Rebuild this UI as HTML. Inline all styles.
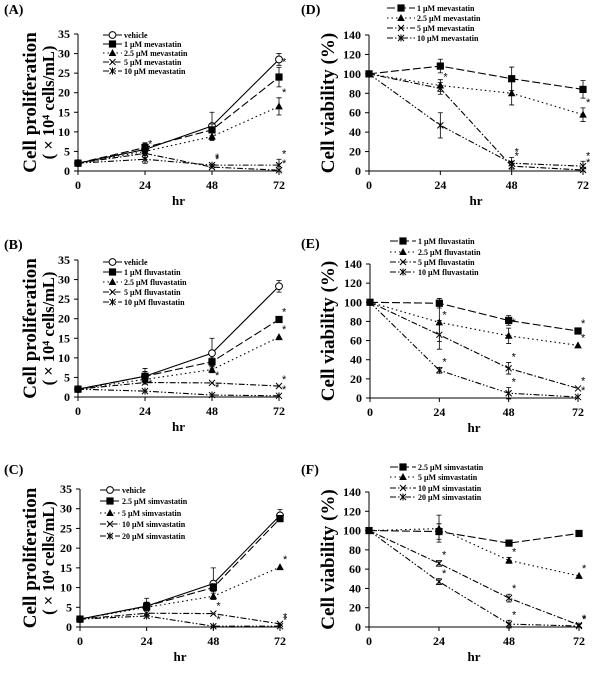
<!DOCTYPE html>
<html><head><meta charset="utf-8">
<style>
html,body{margin:0;padding:0;background:#fff;}
svg{display:block;font-family:"Liberation Serif",serif;}
</style></head>
<body>
<svg id="fig" width="600" height="674" viewBox="0 0 600 674" xmlns="http://www.w3.org/2000/svg"></svg>
<script>
// ---- data ----
const hours = [0, 24, 48, 72];
const xTickLabels = ["0", "24", "48", "72"];
const profTicks = [0, 5, 10, 15, 20, 25, 30, 35];
const viaTicks = [0, 20, 40, 60, 80, 100, 120, 140];

const aLabels = ["vehicle", "1 μM mevastatin", "2.5 μM mevastatin", "5 μM mevastatin", "10 μM mevastatin"];
const aVehicle = [2, 5.5, 11.5, 28.5];
const a1 = [2, 6, 10.5, 24];
const a25 = [2, 5, 8.8, 16.5];
const a5 = [2, 4.5, 1, 0.2];
const a10 = [2, 3, 1.5, 1.5];
const aErr = [[0.3, 1.5, 3.5, 1.5], [0.3, 1.2, 1.5, 2.5], [0.3, 1, 1, 2.2], [0.3, 1, 0.5, 0.3], [0.3, 1, 0.5, 1.5]];

const bLabels = ["vehicle", "1 μM fluvastatin", "2.5 μM fluvastatin", "5 μM fluvastatin", "10 μM fluvastatin"];
const bVehicle = [2, 5.3, 11.2, 28.3];
const b1 = [2, 5.3, 9, 19.8];
const b25 = [2, 4.5, 7, 15.3];
const b5 = [2, 3.7, 3.6, 2.8];
const b10 = [2, 1.5, 0.5, 0.3];
const bErr = [[0.3, 2, 3.8, 1.5], [0.3, 1.2, 1, 0.5], [0.3, 0.8, 0.8, 0.5], [0.3, 0.5, 0.5, 0.3], [0.3, 0.5, 0.5, 0.2]];

const cLabels = ["vehicle", "2.5 μM simvastatin", "5 μM simvastatin", "10 μM simvastatin", "20 μM simvastatin"];
const cVehicle = [2, 5.3, 11, 28.3];
const c25 = [2, 5.3, 10, 27.5];
const c5 = [2, 5, 7.8, 15.2];
const c10 = [2, 3.5, 3.4, 0.8];
const c20 = [2, 2.8, 0.2, 0.2];
const cErr = [[0.3, 2, 4, 1.5], [0.3, 1, 1, 0.8], [0.3, 0.8, 0.8, 0.5], [0.3, 0.5, 0.5, 0.3], [0.3, 0.5, 0.3, 0.2]];

const dLabels = ["1 μM mevastatin", "2.5 μM mevastatin", "5 μM mevastatin", "10 μM mevastatin"];
const d1 = [100, 108, 95, 84];
const d25 = [100, 88, 80, 58];
const d5 = [100, 85, 5, 1];
const d10 = [100, 47, 8, 5];
const dErr = [[2, 7, 12, 9], [2, 6, 12, 7], [2, 6, 5, 2], [2, 13, 6, 5]];

const eLabels = ["1 μM fluvastatin", "2.5 μM fluvastatin", "5 μM fluvastatin", "10 μM fluvastatin"];
const e1 = [100, 99, 81, 70];
const e25 = [100, 79, 65, 55];
const e5 = [100, 66, 31, 10];
const e10 = [100, 29, 5, 1];
const eErr = [[2, 5, 5, 2], [2, 20, 8, 2], [2, 15, 6, 2], [2, 3, 6, 1]];

const fLabels = ["2.5 μM simvastatin", "5 μM simvastatin", "10 μM simvastatin", "20 μM simvastatin"];
const f25 = [100, 99, 87, 97];
const f5 = [100, 102, 69, 53];
const f10 = [100, 66, 30, 2];
const f20 = [100, 47, 3, 1];
const fErr = [[2, 8, 2, 2], [2, 14, 3, 2], [2, 3, 4, 1], [2, 3, 4, 1]];

// asterisk marks: [seriesIndex, timeIndex]
const aStars = [[1, 3], [2, 3], [3, 1], [3, 2], [3, 3], [4, 2], [4, 3]];
const bStars = [[1, 3], [2, 3], [3, 2], [3, 3], [4, 1], [4, 2], [4, 3]];
const cStars = [[2, 3], [3, 2], [3, 3], [4, 2], [4, 3]];
const dStars = [[1, 3], [2, 1], [2, 2], [2, 3], [3, 2], [3, 3]];
const eStars = [[0, 3], [1, 2], [1, 3], [2, 1], [2, 2], [2, 3], [3, 1], [3, 2], [3, 3]];
const fStars = [[1, 2], [1, 3], [2, 1], [2, 2], [2, 3], [3, 1], [3, 2], [3, 3]];

// ---- drawing ----
const NS = "http://www.w3.org/2000/svg";
const svg = document.getElementById("fig");
function mk(tag, attrs, parent, text) {
  const e = document.createElementNS(NS, tag);
  for (const k in attrs) e.setAttribute(k, attrs[k]);
  if (text !== undefined) e.textContent = text;
  (parent || svg).appendChild(e);
  return e;
}
const dashes = ["", "8,3", "1.5,3", "6,2,1.5,2", "6,2,1.5,2,1.5,2"];
function marker(g, kind, x, y) {
  const s = 3.6;
  if (kind === "circle") mk("circle", {cx: x, cy: y, r: 3.4, fill: "#fff", stroke: "#000", "stroke-width": 1}, g);
  else if (kind === "square") mk("rect", {x: x - s, y: y - s, width: 2 * s, height: 2 * s, fill: "#000"}, g);
  else if (kind === "tri") mk("polygon", {points: `${x},${y - 4} ${x - 3.8},${y + 3} ${x + 3.8},${y + 3}`, fill: "#000"}, g);
  else if (kind === "x") mk("path", {d: `M${x - 3},${y - 3}L${x + 3},${y + 3}M${x - 3},${y + 3}L${x + 3},${y - 3}`, stroke: "#000", "stroke-width": 1}, g);
  else if (kind === "star") mk("path", {d: `M${x - 3},${y - 3}L${x + 3},${y + 3}M${x - 3},${y + 3}L${x + 3},${y - 3}M${x},${y - 3.5}L${x},${y + 3.5}`, stroke: "#000", "stroke-width": 1}, g);
}
function panel(cfg) {
  const g = mk("g", {});
  
  
  const xs = v => cfg.x0 + (v / 72) * (cfg.x1 - cfg.x0);
  const ys = v => cfg.y0 - (v / cfg.ymax) * (cfg.y0 - cfg.y1);
  const lab = mk("text", {x: cfg.lx, y: cfg.ly, "font-size": 14, "font-weight": "bold"}, g, cfg.label);
  
  
  const ax = mk("path", {d: `M${cfg.x0},${cfg.y1}L${cfg.x0},${cfg.y0}L${cfg.x1},${cfg.y0}`, stroke: "#000", fill: "none", "stroke-width": 1}, g);
  
  
  cfg.yticks.forEach(t => {
    mk("line", {x1: cfg.x0 - 4, x2: cfg.x0, y1: ys(t), y2: ys(t), stroke: "#000"}, g);
    const tl = mk("text", {x: cfg.x0 - 8, y: ys(t) + 4, "font-size": 12, "font-weight": "bold", "text-anchor": "end"}, g, String(t));
    
    
  });
  hours.forEach((h, i) => {
    mk("line", {x1: xs(h), x2: xs(h), y1: cfg.y0, y2: cfg.y0 + 4, stroke: "#000"}, g);
    const tl = mk("text", {x: xs(h), y: cfg.y0 + 18, "font-size": 12, "font-weight": "bold", "text-anchor": "middle"}, g, xTickLabels[i]);
    
    
  });
  const xt = mk("text", {x: (cfg.x0 + cfg.x1) / 2, y: cfg.y0 + 34, "font-size": 13, "font-weight": "bold", "text-anchor": "middle"}, g, "hr");
  
  
  const cy = (cfg.y0 + cfg.y1) / 2;
  cfg.ytitle.forEach((t, i) => {
    const tx = cfg.tx[i];
    const yt = mk("text", {x: tx, y: cy, "font-size": cfg.tsize[i], "font-weight": "bold", "text-anchor": "middle", transform: `rotate(-90 ${tx} ${cy})`}, g, t);
    
    
  });
  cfg.series.forEach((vals, si) => {
    const st = cfg.styles[si];
    const sg = mk("g", {}, g);
    
    
    const d = vals.map((v, i) => (i ? "L" : "M") + xs(hours[i]) + "," + ys(v)).join("");
    mk("path", {d, fill: "none", stroke: "#000", "stroke-width": 1.1, "stroke-dasharray": dashes[st.dash]}, sg);
    vals.forEach((v, i) => {
      const e = cfg.err[si][i];
      if (e > 0.5 * cfg.ymax / 35) {
        const x = xs(hours[i]);
        mk("path", {d: `M${x},${ys(v - e)}L${x},${ys(v + e)}M${x - 2.5},${ys(v + e)}L${x + 2.5},${ys(v + e)}M${x - 2.5},${ys(v - e)}L${x + 2.5},${ys(v - e)}`, stroke: "#000", "stroke-width": 0.8}, sg);
      }
      marker(sg, st.m, xs(hours[i]), ys(v));
    });
  });
  cfg.stars.forEach(([si, ti]) => {
    const v = cfg.series[si][ti] + cfg.err[si][ti];
    const s = mk("text", {x: xs(hours[ti]) + 3, y: ys(v) - 2, "font-size": 11, "font-family": "Liberation Sans, sans-serif"}, g, "*");
    
    
  });
  cfg.legend.forEach((t, i) => {
    const st = cfg.styles[i];
    const y = cfg.legY[i];
    const lg = mk("g", {}, g);
    
    
    mk("line", {x1: cfg.legX, x2: cfg.legX + cfg.legW, y1: y, y2: y, stroke: "#000", "stroke-width": 1.1, "stroke-dasharray": dashes[st.dash]}, lg);
    marker(lg, st.m, cfg.legX + cfg.legW / 2, y);
    mk("text", {x: cfg.legX + cfg.legW + 2, y: y + 3, "font-size": 8, "font-weight": "bold"}, lg, t);
  });
}
const profStyles = [{m: "circle", dash: 0}, {m: "square", dash: 1}, {m: "tri", dash: 2}, {m: "x", dash: 3}, {m: "star", dash: 4}];
const viaStyles = [{m: "square", dash: 1}, {m: "tri", dash: 2}, {m: "x", dash: 3}, {m: "star", dash: 4}];
const profTitle = ["Cell proliferation", "( × 10⁴ cells/mL)"];
const viaTitle = ["Cell viability (%)"];

panel({name: "panel-a", label: "(A)", lx: 4, ly: 14, x0: 78, x1: 279, y0: 171, y1: 34, ymax: 35, yticks: profTicks,
  ytitle: profTitle, tx: [36, 54], tsize: [19, 16.5], series: [aVehicle, a1, a25, a5, a10], err: aErr, styles: profStyles,
  stars: aStars, legend: aLabels, legX: 103, legW: 19, legY: [35, 44, 53, 62, 71]});
panel({name: "panel-b", label: "(B)", lx: 4, ly: 249, x0: 78, x1: 279, y0: 397, y1: 260, ymax: 35, yticks: profTicks,
  ytitle: profTitle, tx: [36, 54], tsize: [19, 16.5], series: [bVehicle, b1, b25, b5, b10], err: bErr, styles: profStyles,
  stars: bStars, legend: bLabels, legX: 103, legW: 19, legY: [262, 272, 282, 292, 302]});
panel({name: "panel-c", label: "(C)", lx: 4, ly: 474, x0: 80, x1: 280, y0: 627, y1: 489, ymax: 35, yticks: profTicks,
  ytitle: profTitle, tx: [36, 54], tsize: [19, 16.5], series: [cVehicle, c25, c5, c10, c20], err: cErr, styles: profStyles,
  stars: cStars, legend: cLabels, legX: 100, legW: 20, legY: [490, 501, 513, 524, 536]});
panel({name: "panel-d", label: "(D)", lx: 301, ly: 14, x0: 369, x1: 583, y0: 171, y1: 35, ymax: 140, yticks: viaTicks,
  ytitle: viaTitle, tx: [334], tsize: [19], series: [d1, d25, d5, d10], err: dErr, styles: viaStyles,
  stars: dStars, legend: dLabels, legX: 387, legW: 28, legY: [8, 18, 28, 38]});
panel({name: "panel-e", label: "(E)", lx: 301, ly: 248, x0: 370, x1: 578, y0: 398, y1: 264, ymax: 140, yticks: viaTicks,
  ytitle: viaTitle, tx: [334], tsize: [19], series: [e1, e25, e5, e10], err: eErr, styles: viaStyles,
  stars: eStars, legend: eLabels, legX: 390, legW: 26, legY: [241, 252, 262, 272]});
panel({name: "panel-f", label: "(F)", lx: 301, ly: 474, x0: 369, x1: 579, y0: 627, y1: 492, ymax: 140, yticks: viaTicks,
  ytitle: viaTitle, tx: [334], tsize: [19], series: [f25, f5, f10, f20], err: fErr, styles: viaStyles,
  stars: fStars, legend: fLabels, legX: 390, legW: 26, legY: [467, 477, 488, 497]});
</script>
</body></html>
